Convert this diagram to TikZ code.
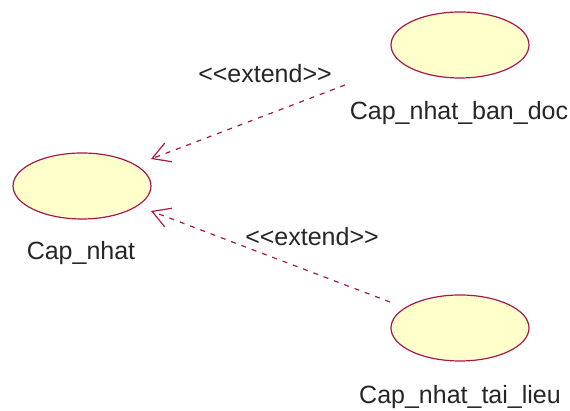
\documentclass[tikz,border=0pt]{standalone}
\usepackage{fontspec}
\setmainfont{Liberation Sans}
\usepackage{xcolor}
\usetikzlibrary{arrows.meta,shapes.geometric}
\definecolor{ucline}{HTML}{A8174E}
\definecolor{ucfill}{HTML}{FFFFCC}
\definecolor{ink}{HTML}{262626}
\tikzset{
  font=\fontsize{12.5}{15}\selectfont,
  usecase/.style={
    ellipse, draw=ucline, line width=0.6pt, fill=ucfill,
    minimum width=69pt, minimum height=33pt, inner sep=0pt
  },
  caption/.style={text=ink, inner sep=0pt},
  extendflow/.style={
    ->, >={Straight Barb[angle=60:10pt]}, draw=ucline, line width=0.6pt,
    dash pattern=on 2.5pt off 3pt
  },
  tag/.style={text=ink, inner sep=0pt}
}

\begin{document}
\begin{tikzpicture}[x=0.5pt,y=0.5pt]
  \useasboundingbox (0,0) rectangle (570,411);

  \node[usecase] (nhat)    at (82,225)  {};
  \node[usecase] (bandoc)  at (460,366) {};
  \node[usecase] (tailieu) at (460,83)  {};

  \node[caption] (nhatlbl)    at (81,158)  {Cap\_nhat};
  \node[caption] (bandoclbl)  at (459,298) {Cap\_nhat\_ban\_doc};
  \node[caption] (tailieulbl) at (460,14)  {Cap\_nhat\_tai\_lieu};

  % end points of the extend links
  \coordinate (ext1from) at (345,326);
  \coordinate (ext1to)   at (151,252);
  \coordinate (ext2from) at (390,109);
  \coordinate (ext2to)   at (151,200);

  \draw[extendflow] (ext1from) -- (ext1to);
  \draw[extendflow] (ext2from) -- (ext2to);

  \node[tag] (ext1lbl) at (265,337) {<{}<extend>{}>};
  \node[tag] (ext2lbl) at (312,174) {<{}<extend>{}>};
\end{tikzpicture}
\end{document}
